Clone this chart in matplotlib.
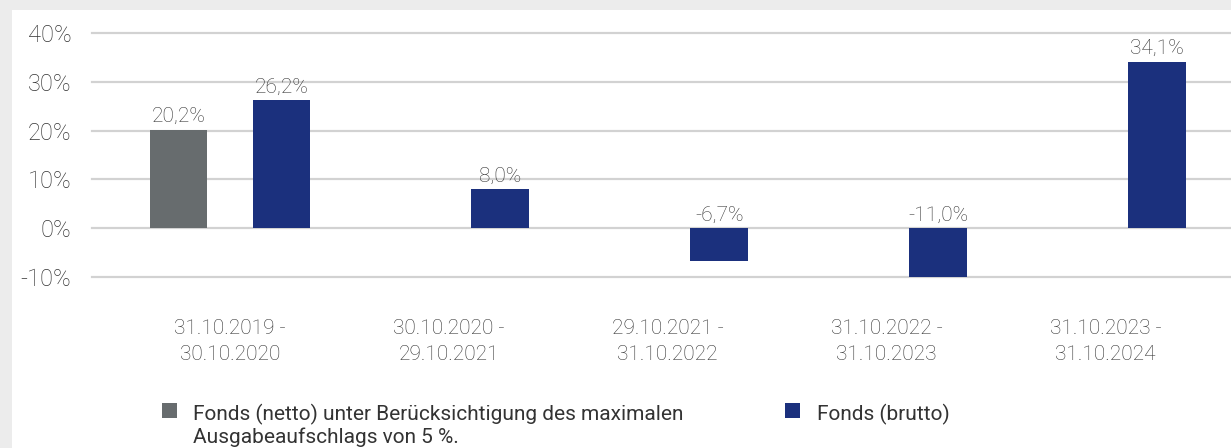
import numpy as np
import matplotlib.pyplot as plt
from matplotlib.patches import Rectangle

plt.rcParams['font.family'] = ['Roboto', 'DejaVu Sans']
plt.rcParams['font.weight'] = 'light'

# Wertentwicklung je 12-Monats-Zeitraum in %
periods = ['31.10.2019 -\n30.10.2020', '30.10.2020 -\n29.10.2021', '29.10.2021 -\n31.10.2022',
           '31.10.2022 -\n31.10.2023', '31.10.2023 -\n31.10.2024']
netto = [20.2, np.nan, np.nan, np.nan, np.nan]
brutto = [26.2, 8.0, -6.7, -11.0, 34.1]
yticks = [-10, 0, 10, 20, 30, 40]

label_netto = 'Fonds (netto) unter Berücksichtigung des maximalen\nAusgabeaufschlags von 5 %.'
label_brutto = 'Fonds (brutto)'

c_netto = '#676c6e'
c_brutto = '#1b307d'
c_text = '#333333'

W, H = 1231, 448
fig = plt.figure(figsize=(W / 100, H / 100), dpi=100, facecolor='#ececec')
# weisses Panel, oben und links bleibt ein grauer Rand
fig.patches.append(Rectangle((12 / W, 0), 1 - 12 / W, 1 - 10 / H, transform=fig.transFigure,
                             facecolor='white', edgecolor='none', zorder=-5))

ax = fig.add_axes([92 / W, 1 - 277 / H, 1 - 92 / W, (277 - 33) / H])
ax.set_facecolor('none')

x = np.arange(len(periods))
off, bw = 0.235, 0.263
b1 = ax.bar(x - off, netto, bw, color=c_netto, label=label_netto, zorder=3)
b2 = ax.bar(x + off, brutto, bw, color=c_brutto, label=label_brutto, zorder=3)

def fmt(v):
    return f'{v:.1f}%'.replace('.', ',')

for xs, vals in [(x - off, netto), (x + off, brutto)]:
    for xi, v in zip(xs, vals):
        if np.isnan(v):
            continue
        ax.annotate(fmt(v), (xi, max(v, 0)), xytext=(0, 2.5), textcoords='offset points',
                    ha='center', va='bottom', fontsize=15, color=c_text)

ax.set_xlim(-0.630, 4.573)
ax.set_ylim(-10, 40)
ax.set_yticks(yticks)
ax.set_yticklabels([f'{t}%' for t in yticks], fontsize=17)
ax.set_xticks(x)
ax.set_xticklabels(periods, linespacing=1.45, fontsize=15)
ax.tick_params(axis='both', length=0, labelcolor=c_text)
ax.tick_params(axis='y', pad=14.8)
ax.tick_params(axis='x', pad=30.5)
for s in ax.spines.values():
    s.set_visible(False)
for t in yticks:
    ax.axhline(t, color='#d2d2d2', lw=1.6, zorder=1, clip_on=False)

# Legende von Hand: Quadrat auf Hoehe der ersten Textzeile
for hx, tx, col, txt in [(162, 193, c_netto, label_netto), (785, 817, c_brutto, label_brutto)]:
    fig.patches.append(Rectangle((hx / W, 1 - 418 / H), 15 / W, 15 / H, transform=fig.transFigure,
                                 facecolor=col, edgecolor='none'))
    fig.text(tx / W, 1 - 403.5 / H, txt, ha='left', va='top', fontsize=15, fontweight='normal',
             color='#333333', linespacing=1.2)

fig.savefig('out.png', dpi=100, facecolor=fig.get_facecolor())
